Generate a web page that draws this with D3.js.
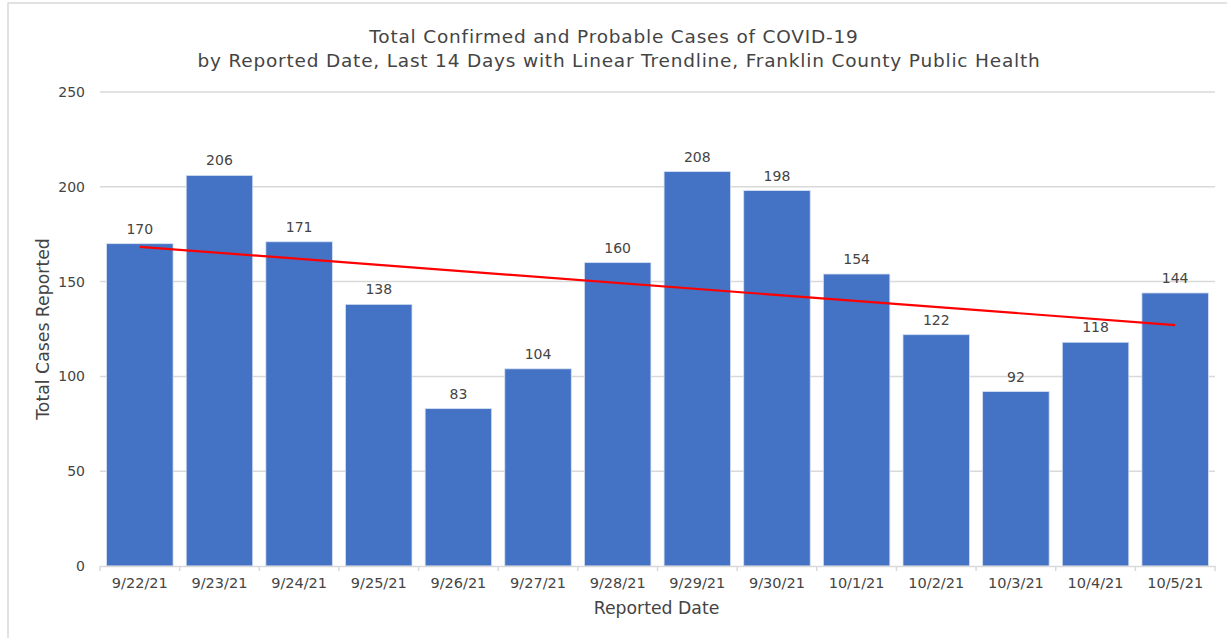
<!DOCTYPE html>
<html><head><meta charset="utf-8">
<script src="https://cdn.jsdelivr.net/npm/d3@7"></script>
<style>
body{margin:0;background:#fff;}
text{font-family:"DejaVu Sans",sans-serif;fill:#444;}
</style></head>
<body><svg id="c" width="1227" height="638"></svg>
<script>
const dates = ["9/22/21","9/23/21","9/24/21","9/25/21","9/26/21","9/27/21","9/28/21","9/29/21","9/30/21","10/1/21","10/2/21","10/3/21","10/4/21","10/5/21"];
const cases = [170,206,171,138,83,104,160,208,198,154,122,92,118,144];
const yTicks = [0,50,100,150,200,250];
const titleLines = ["Total Confirmed and Probable Cases of COVID-19","by Reported Date, Last 14 Days with Linear Trendline, Franklin County Public Health"];

const svg = d3.select("#c");
const W=1227,H=638;
const m={left:100,right:1215,top:92,bottom:566};
const FONT="DejaVu Sans";

// frame
svg.append("rect").attr("x",8).attr("y",3).attr("width",W+10).attr("height",H+10)
  .attr("fill","none").attr("stroke","#d9d9d9").attr("stroke-width",1.5);

const x = d3.scaleBand().domain(dates).range([m.left,m.right]).paddingInner(0.165).paddingOuter(0.0825);
const y = d3.scaleLinear().domain([0,250]).range([m.bottom,m.top]);

// gridlines
svg.append("g").selectAll("line").data(yTicks.filter(d=>d>0)).join("line")
  .attr("x1",m.left).attr("x2",m.right).attr("y1",d=>y(d)).attr("y2",d=>y(d))
  .attr("stroke","#d9d9d9").attr("stroke-width",1.5);

// y axis
const ya = svg.append("g").attr("transform",`translate(${m.left},0)`)
  .call(d3.axisLeft(y).tickValues(yTicks).tickSize(0).tickPadding(15));
ya.select(".domain").remove();
ya.selectAll("text").attr("font-size",14).style("fill","#444").attr("font-family",FONT);

// bars
svg.append("g").selectAll("rect").data(cases).join("rect")
  .attr("x",(d,i)=>x(dates[i])).attr("width",x.bandwidth())
  .attr("y",d=>y(d)).attr("height",d=>y(0)-y(d))
  .attr("fill","#4472C4").attr("stroke","#d6e0f2").attr("stroke-width",0.8);

// x axis
const xa = svg.append("g").attr("transform",`translate(0,${m.bottom})`)
  .call(d3.axisBottom(x).tickSize(0).tickPadding(12));
xa.select(".domain").attr("stroke","#d9d9d9").attr("stroke-width",1.5);
xa.selectAll("text").attr("font-size",14.5).style("fill","#444").attr("font-family",FONT);
// category boundary ticks
svg.append("g").selectAll("line").data(d3.range(dates.length+1)).join("line")
  .attr("x1",i=>i<dates.length? x(dates[i])-x.step()*x.paddingInner()/2 : m.right)
  .attr("x2",i=>i<dates.length? x(dates[i])-x.step()*x.paddingInner()/2 : m.right)
  .attr("y1",m.bottom).attr("y2",m.bottom+5).attr("stroke","#d9d9d9").attr("stroke-width",1.5);

// value labels
svg.append("g").selectAll("text").data(cases).join("text")
  .attr("x",(d,i)=>x(dates[i])+x.bandwidth()/2).attr("y",d=>y(d)-10)
  .attr("text-anchor","middle").attr("font-size",14).text(d=>d);

// linear trendline (least squares on the data)
const n=cases.length, xs=d3.range(1,n+1);
const mx=d3.mean(xs), my=d3.mean(cases);
const slope=d3.sum(xs.map((v,i)=>(v-mx)*(cases[i]-my)))/d3.sum(xs.map(v=>(v-mx)**2));
const icpt=my-slope*mx;
const trend=[0,n-1].map(i=>({d:dates[i],v:icpt+slope*(i+1)}));
svg.append("path").datum(trend)
  .attr("d",d3.line().x(p=>x(p.d)+x.bandwidth()/2).y(p=>y(p.v)))
  .attr("stroke","#ff0000").attr("stroke-width",2.2).attr("fill","none");

// title
svg.append("g").selectAll("text").data(titleLines).join("text")
  .attr("x",(d,i)=>i===0?614:619).attr("y",(d,i)=>43+i*24)
  .attr("text-anchor","middle").attr("font-size",18.5).attr("letter-spacing",0.8).text(d=>d);

// axis titles
svg.append("text").attr("transform",`translate(49,${(m.top+m.bottom)/2}) rotate(-90)`)
  .attr("text-anchor","middle").attr("font-size",17.3).text("Total Cases Reported");
svg.append("text").attr("x",(m.left+m.right)/2-1).attr("y",614)
  .attr("text-anchor","middle").attr("font-size",17.3).text("Reported Date");
</script></body></html>
